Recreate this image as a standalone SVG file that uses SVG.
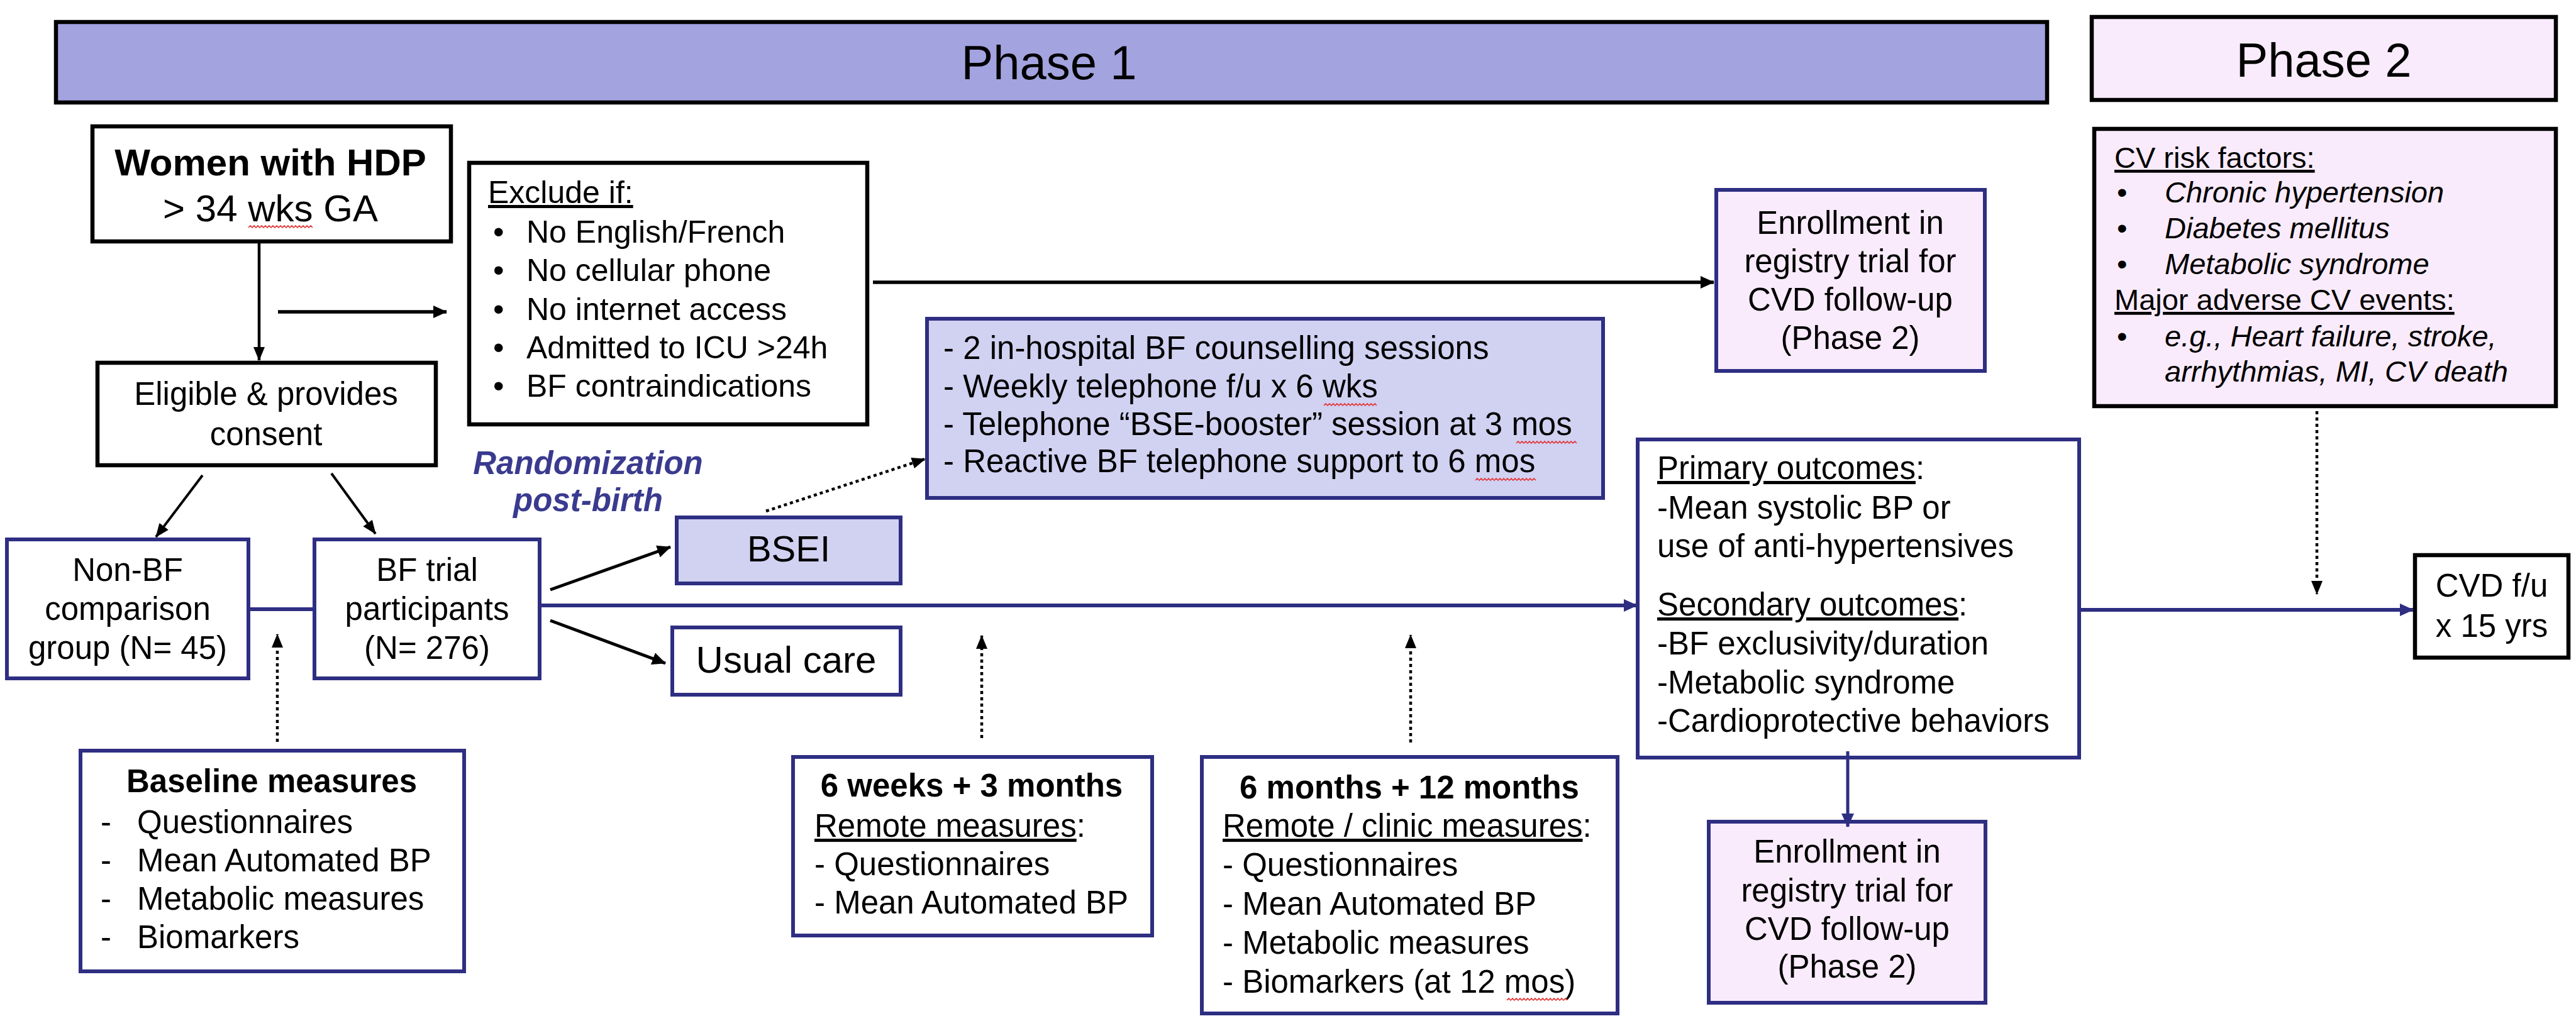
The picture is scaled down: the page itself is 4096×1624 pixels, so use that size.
<svg xmlns="http://www.w3.org/2000/svg" width="4096" height="1624" viewBox="0 0 4096 1624" font-size="51">
<defs>
<style>
text{font-family:"Liberation Sans",Arial,Helvetica,sans-serif;fill:#000}
.c{text-anchor:middle}
.b{font-weight:bold}
.i{font-style:italic}
.u{text-decoration:underline}
.bk{fill:#fff;stroke:#000;stroke-width:6.5}
.nv{fill:#fff;stroke:#2e2e82;stroke-width:6}
.pk{fill:#f9ebfb}
.lav{fill:#d1d1f2}
.cb{stroke:#000;fill:none}
.cn{stroke:#2e2e82;fill:none}
.dt{stroke-width:4.5;stroke-dasharray:5 5}
.sq{stroke:#e23a3a;stroke-width:1.6;fill:none}
.rb{fill:#3a3a8f}
</style>
<marker id="ab" viewBox="0 0 22 20" refX="21" refY="10" markerWidth="22" markerHeight="20" markerUnits="userSpaceOnUse" orient="auto"><path d="M0,0 L22,10 L0,20 z" fill="#000"/></marker>
<marker id="abn" viewBox="0 0 22 18" refX="21" refY="9" markerWidth="22" markerHeight="18" markerUnits="userSpaceOnUse" orient="auto"><path d="M0,0 L22,9 L0,18 z" fill="#000"/></marker>
<marker id="an" viewBox="0 0 22 20" refX="21" refY="10" markerWidth="22" markerHeight="20" markerUnits="userSpaceOnUse" orient="auto"><path d="M0,0 L22,10 L0,20 z" fill="#2e2e82"/></marker>
</defs>
<rect width="4096" height="1624" fill="#fff"/>

<g id="phase1">
<rect x="89" y="35" width="3166" height="128" fill="#a3a3e0" stroke="#000" stroke-width="6.5"/>
<text class="c" x="1668" y="126" font-size="76">Phase 1</text>
</g>
<g id="phase2">
<rect x="3326" y="27" width="738" height="132" class="pk" stroke="#000" stroke-width="6.5"/>
<text class="c" x="3695" y="122" font-size="76">Phase 2</text>
</g>

<g id="women">
<rect class="bk" x="147" y="201" width="570" height="183"/>
<text class="c b" x="430" y="279" font-size="60">Women with HDP</text>
<text class="c" x="430" y="352" font-size="60">&gt; 34 wks GA</text>
<path class="sq" d="M395,362 l3,-3 l3,3 l3,-3 l3,3 l3,-3 l3,3 l3,-3 l3,3 l3,-3 l3,3 l3,-3 l3,3 l3,-3 l3,3 l3,-3 l3,3 l3,-3 l3,3 l3,-3 l3,3 l3,-3 l3,3 l3,-3 l3,3 l3,-3 l3,3 l3,-3 l3,3 l3,-3 l3,3 l3,-3 l3,3 l3,-3 l3,3"/>
</g>

<g id="exclude" font-size="50">
<rect class="bk" x="746" y="259" width="633" height="416"/>
<text x="776" y="323" class="u">Exclude if:</text>
<text x="784" y="386">•</text><text x="837" y="386">No English/French</text>
<text x="784" y="447">•</text><text x="837" y="447">No cellular phone</text>
<text x="784" y="509">•</text><text x="837" y="509">No internet access</text>
<text x="784" y="570">•</text><text x="837" y="570">Admitted to ICU &gt;24h</text>
<text x="784" y="631">•</text><text x="837" y="631">BF contraindications</text>
</g>

<g id="eligible">
<rect class="bk" x="155" y="577" width="538" height="163"/>
<text class="c" x="423" y="644">Eligible &amp; provides</text>
<text class="c" x="423" y="708">consent</text>
</g>

<g id="enroll-top">
<rect x="2729" y="302" width="427" height="288" class="pk" stroke="#2e2e82" stroke-width="6"/>
<text class="c" x="2942" y="372">Enrollment in</text>
<text class="c" x="2942" y="433">registry trial for</text>
<text class="c" x="2942" y="494">CVD follow-up</text>
<text class="c" x="2942" y="555">(Phase 2)</text>
</g>

<g id="cv-risk" font-size="47">
<rect x="3330" y="205" width="734" height="441" class="pk" stroke="#000" stroke-width="6.5"/>
<text x="3362" y="267" class="u">CV risk factors:</text>
<text x="3366" y="322">•</text><text x="3442" y="322" class="i">Chronic hypertension</text>
<text x="3366" y="379">•</text><text x="3442" y="379" class="i">Diabetes mellitus</text>
<text x="3366" y="436">•</text><text x="3442" y="436" class="i">Metabolic syndrome</text>
<text x="3362" y="493" class="u">Major adverse CV events:</text>
<text x="3366" y="551">•</text><text x="3442" y="551" class="i">e.g., Heart failure, stroke,</text>
<text x="3442" y="607" class="i">arrhythmias, MI, CV death</text>
</g>

<g id="bsei-detail">
<rect x="1474" y="507" width="1075" height="285" class="lav" stroke="#2e2e82" stroke-width="6"/>
<text x="1500" y="571">- 2 in-hospital BF counselling sessions</text>
<text x="1500" y="632">- Weekly telephone f/u x 6 wks</text>
<text x="1500" y="692">- Telephone “BSE-booster” session at 3 mos</text>
<text x="1500" y="751">- Reactive BF telephone support to 6 mos</text>
<path class="sq" d="M2105,645 l3,-3 l3,3 l3,-3 l3,3 l3,-3 l3,3 l3,-3 l3,3 l3,-3 l3,3 l3,-3 l3,3 l3,-3 l3,3 l3,-3 l3,3 l3,-3 l3,3 l3,-3 l3,3 l3,-3 l3,3 l3,-3 l3,3 l3,-3 l3,3 l3,-3 l3,3"/>
<path class="sq" d="M2411,705 l3,-3 l3,3 l3,-3 l3,3 l3,-3 l3,3 l3,-3 l3,3 l3,-3 l3,3 l3,-3 l3,3 l3,-3 l3,3 l3,-3 l3,3 l3,-3 l3,3 l3,-3 l3,3 l3,-3 l3,3 l3,-3 l3,3 l3,-3 l3,3 l3,-3 l3,3 l3,-3 l3,3 l3,-3 l3,3"/>
<path class="sq" d="M2346,764 l3,-3 l3,3 l3,-3 l3,3 l3,-3 l3,3 l3,-3 l3,3 l3,-3 l3,3 l3,-3 l3,3 l3,-3 l3,3 l3,-3 l3,3 l3,-3 l3,3 l3,-3 l3,3 l3,-3 l3,3 l3,-3 l3,3 l3,-3 l3,3 l3,-3 l3,3 l3,-3 l3,3 l3,-3 l3,3"/>
</g>

<g id="randomization">
<text class="c b i rb" x="935" y="754">Randomization</text>
<text class="c b i rb" x="935" y="813">post-birth</text>
</g>

<g id="non-bf">
<rect class="nv" x="11" y="858" width="384" height="221"/>
<text class="c" x="203" y="924">Non-BF</text>
<text class="c" x="203" y="986">comparison</text>
<text class="c" x="203" y="1048">group (N= 45)</text>
</g>

<g id="bf-trial">
<rect class="nv" x="500" y="858" width="358" height="221"/>
<text class="c" x="679" y="924">BF trial</text>
<text class="c" x="679" y="986">participants</text>
<text class="c" x="679" y="1048">(N= 276)</text>
</g>

<g id="bsei">
<rect x="1076" y="823" width="356" height="105" class="lav" stroke="#2e2e82" stroke-width="6"/>
<text class="c" x="1254" y="893" font-size="58">BSEI</text>
</g>

<g id="usual-care">
<rect class="nv" x="1069" y="998" width="363" height="107"/>
<text class="c" x="1250" y="1070" font-size="60">Usual care</text>
</g>

<g id="outcomes">
<rect class="nv" x="2604" y="699" width="702" height="506"/>
<text x="2635" y="762"><tspan class="u">Primary outcomes</tspan>:</text>
<text x="2635" y="825">-Mean systolic BP or</text>
<text x="2635" y="886">use of anti-hypertensives</text>
<text x="2635" y="979"><tspan class="u">Secondary outcomes</tspan>:</text>
<text x="2635" y="1041">-BF exclusivity/duration</text>
<text x="2635" y="1103">-Metabolic syndrome</text>
<text x="2635" y="1164">-Cardioprotective behaviors</text>
</g>

<g id="cvd-fu">
<rect class="bk" x="3840" y="883" width="244" height="163"/>
<text class="c" x="3962" y="949">CVD f/u</text>
<text class="c" x="3962" y="1013">x 15 yrs</text>
</g>

<g id="enroll-bottom">
<rect x="2717" y="1307" width="440" height="288" class="pk" stroke="#2e2e82" stroke-width="6"/>
<text class="c" x="2937" y="1372">Enrollment in</text>
<text class="c" x="2937" y="1434">registry trial for</text>
<text class="c" x="2937" y="1495">CVD follow-up</text>
<text class="c" x="2937" y="1555">(Phase 2)</text>
</g>

<g id="baseline">
<rect class="nv" x="128" y="1194" width="610" height="351"/>
<text class="c b" x="432" y="1260">Baseline measures</text>
<text x="160" y="1325">-</text><text x="218" y="1325">Questionnaires</text>
<text x="160" y="1386">-</text><text x="218" y="1386">Mean Automated BP</text>
<text x="160" y="1447">-</text><text x="218" y="1447">Metabolic measures</text>
<text x="160" y="1508">-</text><text x="218" y="1508">Biomarkers</text>
</g>

<g id="six-weeks">
<rect class="nv" x="1261" y="1204" width="571" height="284"/>
<text class="c b" x="1545" y="1267">6 weeks + 3 months</text>
<text x="1295" y="1331"><tspan class="u">Remote measures</tspan>:</text>
<text x="1295" y="1392">- Questionnaires</text>
<text x="1295" y="1453">- Mean Automated BP</text>
</g>

<g id="six-months">
<rect class="nv" x="1911" y="1204" width="661" height="408"/>
<text class="c b" x="2241" y="1270">6 months + 12 months</text>
<text x="1944" y="1331"><tspan class="u">Remote / clinic measures</tspan>:</text>
<text x="1944" y="1393">- Questionnaires</text>
<text x="1944" y="1455">- Mean Automated BP</text>
<text x="1944" y="1517">- Metabolic measures</text>
<text x="1944" y="1579">- Biomarkers (at 12 mos)</text>
<path class="sq" d="M2396,1591 l3,-3 l3,3 l3,-3 l3,3 l3,-3 l3,3 l3,-3 l3,3 l3,-3 l3,3 l3,-3 l3,3 l3,-3 l3,3 l3,-3 l3,3 l3,-3 l3,3 l3,-3 l3,3 l3,-3 l3,3 l3,-3 l3,3 l3,-3 l3,3 l3,-3 l3,3 l3,-3 l3,3 l3,-3 l3,3"/>
</g>

<g id="connectors">
<line class="cb" x1="412" y1="387" x2="412" y2="573" stroke-width="4.5" marker-end="url(#abn)"/>
<line class="cb" x1="442" y1="496" x2="710" y2="496" stroke-width="5.5" marker-end="url(#ab)"/>
<line class="cb" x1="1388" y1="449" x2="2725" y2="449" stroke-width="5.5" marker-end="url(#ab)"/>
<line class="cb" x1="322" y1="756" x2="248" y2="854" stroke-width="4" marker-end="url(#abn)"/>
<line class="cb" x1="527" y1="753" x2="597" y2="849" stroke-width="4" marker-end="url(#abn)"/>
<line class="cn" x1="395" y1="969" x2="500" y2="969" stroke-width="6"/>
<line class="cn" x1="858" y1="963" x2="2603" y2="963" stroke-width="6" marker-end="url(#an)"/>
<line class="cb" x1="875" y1="938" x2="1066" y2="870" stroke-width="5" marker-end="url(#ab)"/>
<line class="cb" x1="875" y1="987" x2="1058" y2="1055" stroke-width="5" marker-end="url(#ab)"/>
<line class="cb dt" x1="1218" y1="813" x2="1471" y2="730" marker-end="url(#abn)"/>
<line class="cb dt" x1="441" y1="1180" x2="441" y2="1009" marker-end="url(#abn)"/>
<line class="cb dt" x1="1561" y1="1174" x2="1561" y2="1011" marker-end="url(#abn)"/>
<line class="cb dt" x1="2243" y1="1181" x2="2243" y2="1010" marker-end="url(#abn)"/>
<line class="cb dt" x1="3684" y1="654" x2="3684" y2="945" marker-end="url(#abn)"/>
<line class="cn" x1="3307" y1="970" x2="3837" y2="970" stroke-width="6" marker-end="url(#an)"/>
<line class="cn" x1="2938" y1="1195" x2="2938" y2="1315" stroke-width="5" marker-end="url(#an)"/>
</g>
</svg>
